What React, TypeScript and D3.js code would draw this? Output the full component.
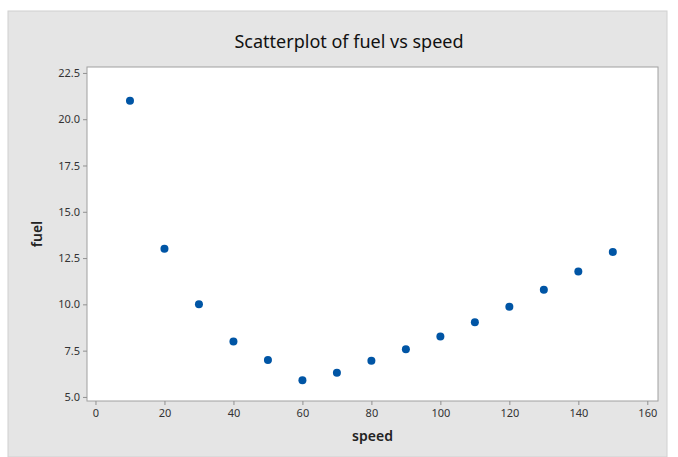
import * as d3 from "d3";
import { useEffect, useRef } from "react";

const speed = [10, 20, 30, 40, 50, 60, 70, 80, 90, 100, 110, 120, 130, 140, 150];
const fuel = [21.0, 13.0, 10.0, 8.0, 7.0, 5.9, 6.3, 6.95, 7.57, 8.27, 9.03, 9.87, 10.79, 11.77, 12.83];
const xTicks = [0, 20, 40, 60, 80, 100, 120, 140, 160];
const yTicks = [5.0, 7.5, 10.0, 12.5, 15.0, 17.5, 20.0, 22.5];

function App() {
  const ref = useRef<SVGSVGElement>(null);

  useEffect(() => {
    const svg = d3.select(ref.current);
    const width = 678;
    const height = 457;
    const plot = { left: 87, right: 658, top: 67, bottom: 401 };
    const font = "'Noto Sans', 'Open Sans', sans-serif";

    svg.selectAll("*").remove();

    svg
      .append("rect")
      .attr("x", 8)
      .attr("y", 11)
      .attr("width", 659)
      .attr("height", height - 11)
      .attr("fill", "#e5e5e5")
      .attr("stroke", "#d0d0d0");

    const x = d3
      .scaleLinear()
      .domain([-2.46, 163.1])
      .range([plot.left, plot.right]);

    const y = d3
      .scaleLinear()
      .domain([4.78, 22.82])
      .range([plot.bottom, plot.top]);

    svg
      .append("rect")
      .attr("x", plot.left)
      .attr("y", plot.top)
      .attr("width", plot.right - plot.left)
      .attr("height", plot.bottom - plot.top)
      .attr("fill", "#fff")
      .attr("stroke", "#a0a0a0");

    const xAxis = svg
      .append("g")
      .attr("transform", `translate(0,${plot.bottom})`)
      .call(d3.axisBottom(x).tickValues(xTicks).tickSize(4).tickPadding(4).tickFormat(d3.format("d")));

    const yAxis = svg
      .append("g")
      .attr("transform", `translate(${plot.left},0)`)
      .call(d3.axisLeft(y).tickValues(yTicks).tickSize(4).tickPadding(3).tickFormat(d3.format(".1f")));

    [xAxis, yAxis].forEach((g) => {
      g.select(".domain").remove();
      g.selectAll(".tick line").attr("stroke", "#909090");
      g.selectAll(".tick text")
        .attr("fill", "#333")
        .style("font-family", font)
        .style("font-size", "11px");
    });

    svg
      .append("text")
      .attr("x", 349)
      .attr("y", 48)
      .attr("text-anchor", "middle")
      .style("font-family", font)
      .style("font-size", "18px")
      .attr("fill", "#111")
      .text("Scatterplot of fuel vs speed");

    svg
      .append("text")
      .attr("x", (plot.left + plot.right) / 2)
      .attr("y", 441)
      .attr("text-anchor", "middle")
      .style("font-family", font)
      .style("font-size", "14px")
      .style("font-weight", "600")
      .attr("fill", "#222")
      .text("speed");

    svg
      .append("text")
      .attr("transform", `translate(42,${(plot.top + plot.bottom) / 2}) rotate(-90)`)
      .attr("text-anchor", "middle")
      .style("font-family", font)
      .style("font-size", "14px")
      .style("font-weight", "600")
      .attr("fill", "#222")
      .text("fuel");

    svg
      .append("g")
      .selectAll("circle")
      .data(speed.map((s, i) => ({ s, f: fuel[i] })))
      .join("circle")
      .attr("cx", (d) => x(d.s))
      .attr("cy", (d) => y(d.f))
      .attr("r", 4)
      .attr("fill", "#0055a5");
  }, []);

  return (
    <svg
      ref={ref}
      width={678}
      height={457}
      style={{ position: "absolute", left: 0, top: 0 }}
    />
  );
}

export default App;
